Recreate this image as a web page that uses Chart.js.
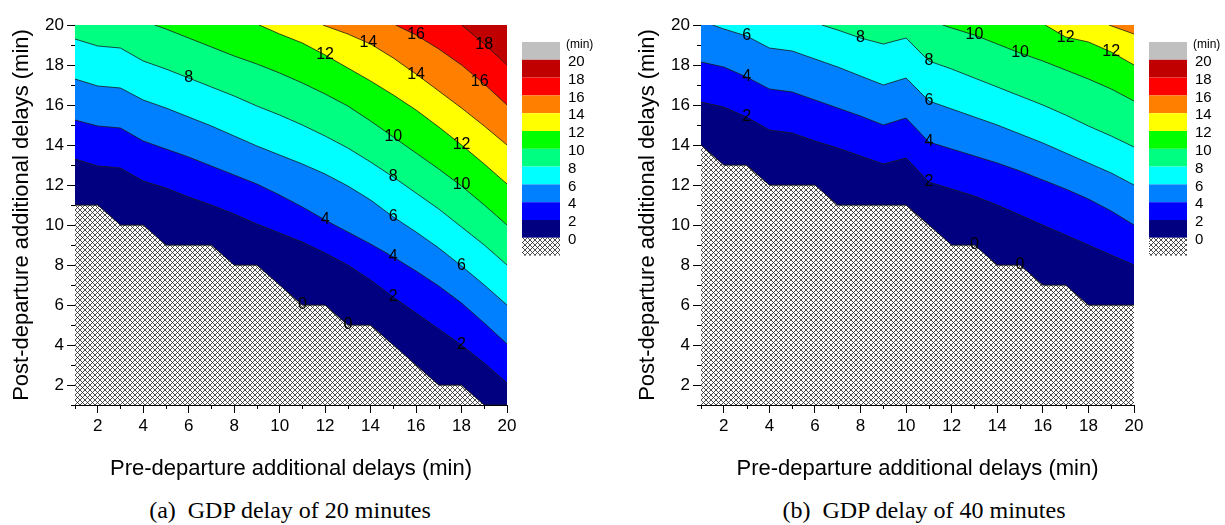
<!DOCTYPE html>
<html>
<head>
<meta charset="utf-8">
<script src="https://cdn.jsdelivr.net/npm/chart.js@4.4.1/dist/chart.umd.min.js"></script>
<style>
body { margin: 0; background: #fff; width: 1225px; height: 525px; position: relative; overflow: hidden; }
canvas { position: absolute; top: 0; }
#chartA { left: 0; }
#chartB { left: 626px; }
.caption { position: absolute; top: 496px; width: 600px; text-align: center; font-family: "Liberation Serif", serif; font-size: 24px; line-height: 28px; color: #000; white-space: pre; }
#capA { left: -10px; }
#capB { left: 624px; }
</style>
</head>
<body>
<canvas id="chartA" width="600" height="482"></canvas>
<canvas id="chartB" width="600" height="482"></canvas>
<div class="caption" id="capA">(a)  GDP delay of 20 minutes</div>
<div class="caption" id="capB">(b)  GDP delay of 40 minutes</div>
<script>
// tick values
const majorTicks = [2, 4, 6, 8, 10, 12, 14, 16, 18, 20];
const minorTicks = [1, 3, 5, 7, 9, 11, 13, 15, 17, 19];

// contour levels and legend
const levels = [0, 2, 4, 6, 8, 10, 12, 14, 16, 18];
const legendLabels = ['20', '18', '16', '14', '12', '10', '8', '6', '4', '2', '0'];
const legendUnit = '(min)';

// contour lines, GDP delay of 20 minutes: [pre-departure, post-departure]
const gdp20_0 = [[1,11],[2,11],[3,10],[4,10],[5,9],[6,9],[7,9],[8,8],[9,8],[10,7],[11,6],[12,6],[13,5],[14,5],[15,4],[16,3],[17,2],[18,2],[19,1],[20,1]];
const gdp20_2 = [[1,13.3],[2,12.95],[3,12.85],[4,12.2],[5,11.85],[6,11.4],[7,11.0],[8,10.55],[9,10.05],[10,9.6],[11,9.15],[12,8.6],[13,8.0],[14,7.25],[15,6.4],[16,5.6],[17,4.8],[18,4.0],[19,3.1],[20,2.1]];
const gdp20_4 = [[1,15.25],[2,14.95],[3,14.85],[4,14.2],[5,13.8],[6,13.4],[7,12.95],[8,12.5],[9,12.05],[10,11.5],[11,10.9],[12,10.25],[13,9.65],[14,9.05],[15,8.4],[16,7.7],[17,6.95],[18,6.1],[19,5.1],[20,4.05]];
const gdp20_6 = [[1,17.3],[2,16.95],[3,16.85],[4,16.25],[5,15.85],[6,15.4],[7,14.95],[8,14.45],[9,13.95],[10,13.5],[11,13.05],[12,12.55],[13,11.95],[14,11.25],[15,10.4],[16,9.65],[17,8.85],[18,7.95],[19,7.0],[20,6.0]];
const gdp20_8 = [[1,19.3],[2,18.95],[3,18.85],[4,18.2],[5,17.8],[6,17.35],[7,16.9],[8,16.45],[9,15.95],[10,15.5],[11,15.0],[12,14.45],[13,13.85],[14,13.15],[15,12.4],[16,11.6],[17,10.8],[18,9.9],[19,9.0],[20,8.0]];
const gdp20_10 = [[4.5,20],[5,19.8],[6,19.35],[7,18.9],[8,18.45],[9,18.05],[10,17.6],[11,17.1],[12,16.55],[13,15.95],[14,15.2],[15,14.4],[16,13.6],[17,12.8],[18,11.95],[19,11.0],[20,10.0]];
const gdp20_12 = [[9.1,20],[10,19.55],[11,19.1],[12,18.5],[13,17.85],[14,17.2],[15,16.5],[16,15.75],[17,14.9],[18,14.0],[19,13.05],[20,12.05]];
const gdp20_14 = [[11.9,20],[13,19.55],[14,19.05],[15,18.35],[16,17.55],[17,16.7],[18,15.85],[19,14.95],[20,14.0]];
const gdp20_16 = [[15.1,20],[16,19.5],[17,18.8],[18,18.0],[19,17.05],[20,16.0]];
const gdp20_18 = [[18,20],[19,19.05],[20,18.0]];
const gdp20Labels = [[6,17.35,'8'],[12,18.5,'12'],[13.9,19.1,'14'],[16,19.5,'16'],[19,19.0,'18'],[16,17.5,'14'],[18.8,17.15,'16'],[15,14.4,'10'],[18,14.0,'12'],[15,12.4,'8'],[18,12.0,'10'],[12,10.25,'4'],[15,10.4,'6'],[15,8.4,'4'],[18,7.95,'6'],[15,6.4,'2'],[18,4.0,'2'],[11,6.0,'0'],[13,5.0,'0']];

// contour lines, GDP delay of 40 minutes
const gdp40_0 = [[1,14],[2,13],[3,13],[4,12],[5,12],[6,12],[7,11],[8,11],[9,11],[10,11],[11,10],[12,9],[13,9],[14,8],[15,8],[16,7],[17,7],[18,6],[19,6],[20,6]];
const gdp40_2 = [[1,16.15],[2,15.9],[3,15.4],[4,14.75],[5,14.6],[6,14.2],[7,13.85],[8,13.45],[9,13.05],[10,13.35],[11,12.15],[12,11.8],[13,11.45],[14,11.0],[15,10.5],[16,10.0],[17,9.5],[18,9.0],[19,8.5],[20,8.0]];
const gdp40_4 = [[1,18.15],[2,17.9],[3,17.4],[4,16.8],[5,16.65],[6,16.25],[7,15.85],[8,15.45],[9,15.0],[10,15.35],[11,14.15],[12,13.8],[13,13.45],[14,13.1],[15,12.7],[16,12.25],[17,11.8],[18,11.3],[19,10.7],[20,10.0]];
const gdp40_6 = [[1.5,20],[2,19.8],[3,19.45],[4,18.85],[5,18.7],[6,18.3],[7,17.9],[8,17.45],[9,17.0],[10,17.35],[11,16.2],[12,15.8],[13,15.4],[14,15.0],[15,14.55],[16,14.1],[17,13.6],[18,13.1],[19,12.6],[20,12.0]];
const gdp40_8 = [[6.3,20],[7,19.75],[8,19.35],[9,19.05],[10,19.35],[11,18.2],[12,17.8],[13,17.35],[14,16.9],[15,16.45],[16,16.0],[17,15.5],[18,14.95],[19,14.45],[20,13.9]];
const gdp40_10 = [[11.6,20],[12,19.85],[13,19.5],[14,19.05],[15,18.6],[16,18.2],[17,17.75],[18,17.3],[19,16.8],[20,16.2]];
const gdp40_12 = [[16.1,20],[17,19.4],[18,19.15],[19,18.65],[20,18.0]];
const gdp40_14 = [[18.9,20],[20,19.55]];
const gdp40Labels = [[3,19.45,'6'],[3,17.4,'4'],[3,15.4,'2'],[8,19.35,'8'],[11,18.2,'8'],[11,16.2,'6'],[11,14.15,'4'],[11,12.15,'2'],[13,19.5,'10'],[15,18.6,'10'],[17,19.35,'12'],[19,18.65,'12'],[13,9.0,'0'],[15,8.0,'0']];

// band colours, lowest band first (0-2 ... 18-20, >20)
const bandColors = ['#000080', '#0000ff', '#0080ff', '#00ffff', '#00ff80', '#00ff00', '#ffff00', '#ff8000', '#ff0000', '#c00000', '#c0c0c0'];
const FONT = '"Liberation Sans", Arial, sans-serif';

function makeHatch() {
    const tile = document.createElement('canvas');
    tile.width = 5;
    tile.height = 5;
    const c = tile.getContext('2d');
    c.fillStyle = '#fff';
    c.fillRect(0, 0, 5, 5);
    c.strokeStyle = '#222';
    c.lineWidth = 0.8;
    c.beginPath();
    c.moveTo(0, 0); c.lineTo(5, 5);
    c.moveTo(5, 0); c.lineTo(0, 5);
    c.stroke();
    return c.createPattern(tile, 'repeat');
}

const hatch = makeHatch();

function toPoints(line) {
    return line.map(p => ({ x: p[0], y: p[1] }));
}

function buildDatasets(lines) {
    const sets = [];
    // highest level first so it is drawn last (on top)
    for (let i = lines.length - 1; i >= 0; i--) {
        sets.push({
            data: toPoints(lines[i]),
            borderColor: '#1a1a1a',
            borderWidth: 0.8,
            backgroundColor: bandColors[i],
            fill: 'end',
            pointRadius: 0,
            tension: 0
        });
    }
    sets.push({
        data: toPoints(lines[0]),
        borderColor: '#1a1a1a',
        borderWidth: 0.8,
        backgroundColor: hatch,
        fill: 'start',
        pointRadius: 0,
        tension: 0
    });
    return sets;
}

function decorations(labels) {
    return {
        id: 'decorations',
        afterDatasetsDraw(chart) {
            const ctx = chart.ctx;
            const xs = chart.scales.x, ys = chart.scales.y;
            ctx.save();
            ctx.font = '16px ' + FONT;
            ctx.fillStyle = '#000';
            ctx.textAlign = 'center';
            ctx.textBaseline = 'middle';
            labels.forEach(l => ctx.fillText(l[2], xs.getPixelForValue(l[0]), ys.getPixelForValue(l[1])));
            ctx.restore();
        },
        afterDraw(chart) {
            const ctx = chart.ctx;
            const area = chart.chartArea;
            const xs = chart.scales.x, ys = chart.scales.y;
            ctx.save();
            // minor ticks
            ctx.strokeStyle = '#000';
            ctx.lineWidth = 1;
            ctx.beginPath();
            minorTicks.forEach(v => {
                const px = Math.round(xs.getPixelForValue(v)) + 0.5;
                ctx.moveTo(px, area.bottom);
                ctx.lineTo(px, area.bottom + 4);
                const py = Math.round(ys.getPixelForValue(v)) + 0.5;
                ctx.moveTo(area.left - 4, py);
                ctx.lineTo(area.left, py);
            });
            ctx.stroke();

            // colour key
            const bx = area.right + 15, bw = 38, bh = 17.8;
            let by = area.top + 17;
            for (let i = bandColors.length - 1; i >= 0; i--) {
                ctx.fillStyle = bandColors[i];
                ctx.fillRect(bx, by, bw, bh);
                by += bh;
            }
            ctx.fillStyle = hatch;
            ctx.fillRect(bx, by, bw, bh);

            ctx.fillStyle = '#000';
            ctx.textAlign = 'left';
            ctx.textBaseline = 'middle';
            ctx.font = '12px ' + FONT;
            ctx.fillText(legendUnit, bx + bw + 6, area.top + 20);
            ctx.font = '15px ' + FONT;
            legendLabels.forEach((t, i) => {
                ctx.fillText(t, bx + bw + 8, area.top + 17 + (i + 1) * bh + 2);
            });
            ctx.restore();
        }
    };
}

function axis(titleText, horizontal) {
    return {
        type: 'linear',
        min: 1,
        max: 20,
        afterBuildTicks: scale => { scale.ticks = majorTicks.map(v => ({ value: v })); },
        afterFit: scale => {
            if (horizontal) scale.height = 77; else scale.width = 75;
        },
        border: { display: true, color: '#000', width: 1 },
        grid: { drawOnChartArea: false, tickLength: 8, tickColor: '#000', tickWidth: 1 },
        ticks: { color: '#000', font: { family: FONT, size: 17 }, padding: 3, maxRotation: 0 },
        title: {
            display: true,
            text: titleText,
            color: '#000',
            font: { family: FONT, size: 22 },
            padding: horizontal ? { top: 0, bottom: 0 } : { top: 9, bottom: 0 }
        }
    };
}

function makeChart(id, lines, labels, rightPad) {
    const ctx = document.getElementById(id).getContext('2d');
    return new Chart(ctx, {
        type: 'line',
        data: { datasets: buildDatasets(lines) },
        options: {
            responsive: false,
            animation: false,
            devicePixelRatio: 1,
            layout: { padding: { top: 25, right: rightPad, bottom: 0, left: 0 } },
            plugins: { legend: { display: false }, tooltip: { enabled: false } },
            scales: {
                x: axis('Pre-departure additional delays (min)', true),
                y: axis('Post-departure additional delays (min)', false)
            }
        },
        plugins: [decorations(labels)]
    });
}

makeChart('chartA', [gdp20_0, gdp20_2, gdp20_4, gdp20_6, gdp20_8, gdp20_10, gdp20_12, gdp20_14, gdp20_16, gdp20_18], gdp20Labels, 93);
makeChart('chartB', [gdp40_0, gdp40_2, gdp40_4, gdp40_6, gdp40_8, gdp40_10, gdp40_12, gdp40_14], gdp40Labels, 92);
</script>
</body>
</html>
